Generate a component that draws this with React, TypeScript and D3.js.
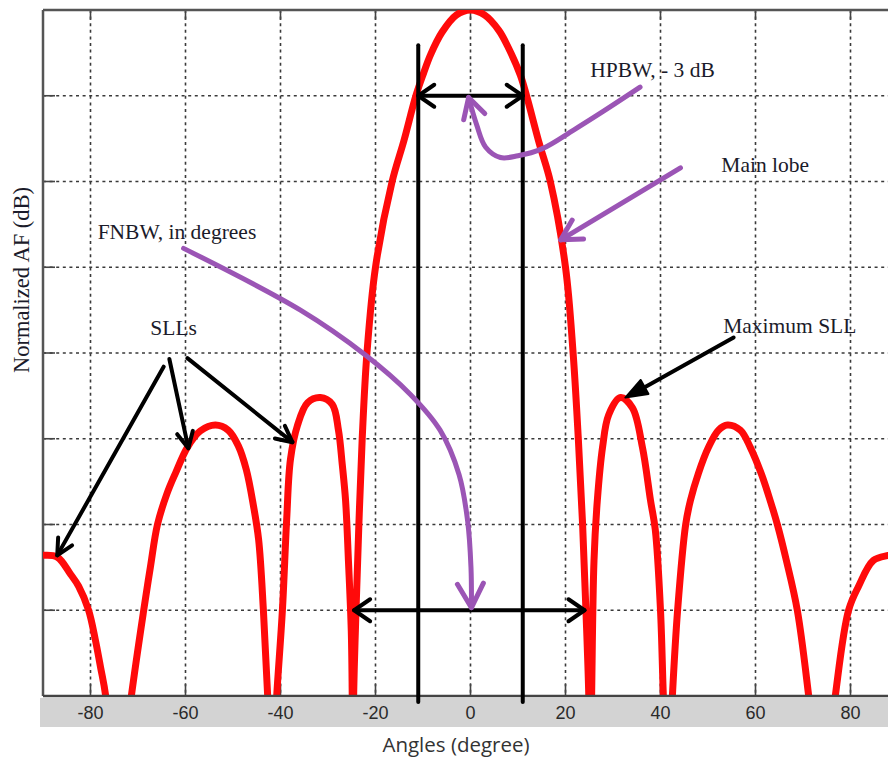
import React from 'react';
import * as d3 from 'd3';

// ---- data ----
const angles = [
  -90, -87, -84.2, -82.5, -80.4, -79, -77.9, -76.8, -74.5, -71.4, -68.8, -67.4, -65.9, -63.9, -62.1, -59.6, -56.9, -53.7,
  -51, -48.9, -47.2, -45.7, -44.6, -43.6, -42.7, -42, -40.8, -39.6, -38.7, -37.9, -36.4, -34.3, -31.6, -29.1, -27.8,
  -27, -26.3, -25.7, -25.1, -24.9, -24.75, -24.6, -24.1, -23.5, -22.8, -21.8, -20, -16.5, -14, -11.5, -9.9,
  -8.4, -6, -3, 0, 3, 6, 7.8, 10.5, 11.8, 14.5, 16.8, 20, 21.6, 22.7, 23.6, 24.3, 24.9, 25.2, 25.5, 26, 26.7, 27.8, 29.1, 31.6,
  34.1, 36.2, 37.9, 38.9, 40, 40.6, 41.5, 42.5, 43.6, 45.3, 46.3, 48, 50.1, 52.2, 54.1, 56.8, 58.9, 61.3, 63.2, 64.6,
  66.5, 68.8, 71.2, 74, 76.8, 79.6, 81.7, 84.8, 88, 90,
];
const afDb = [
  -31.8, -31.9, -32.9, -33.6, -35, -36.7, -38.3, -40, -47, -40, -35, -32.5, -30, -28.2, -27, -25.5, -24.55, -24.2,
  -24.5, -25.4, -26.8, -28.9, -30.9, -35, -40, -46, -40, -35, -29.7, -26.2, -24.2, -22.9, -22.6, -23.0, -24.5,
  -26.5, -28.6, -32.1, -36.2, -40, -46, -40, -35, -30, -25, -20, -15, -10, -7.6, -5, -3.7,
  -2.6, -1.3, -0.3, 0, -0.3, -1.2, -2.1, -3.8, -5, -7.8, -10, -15, -20, -25, -30, -35, -40, -46, -40, -32.1, -28.6, -25.5, -23.6, -22.6,
  -23.2, -25.5, -28.6, -30.3, -35, -40, -46, -40, -35, -30, -28.6, -27, -25.5, -24.5, -24.2, -24.5, -25.5, -27.1, -28.7, -30,
  -32.1, -35, -40, -47, -40, -35, -33.6, -32.1, -31.8, -31.7,
];
const xTicks = [-80, -60, -40, -20, 0, 20, 40, 60, 80];
const yGrid = [-35, -30, -25, -20, -15, -10, -5];
const xDomain = [-90, 90];
const yDomain = [-40, 0];
const xTitle = 'Angles (degree)';
const yTitle = 'Normalized AF (dB)';

// annotations, in data coordinates [angle, dB]
const hpbwEdges = [-11, 11];
const hpbwLevel = -5;
const edgeLineTop = -2.05;
const edgeLineBottom = -40.35;
const fnbwEdges = [-24.5, 24];
const fnbwLevel = -35;
const hpbwPointer = [[35.7, -4.5], [28, -5.9], [21.7, -7.0], [15, -8.1], [10, -8.5], [6.3, -8.6], [3.2, -8.0], [1.3, -6.7], [-0.4, -5.1]];
const mainLobePointer = [[44.2, -9.2], [19.0, -13.4]];
const fnbwPointer = [[-60.4, -13.9], [-35.8, -17.5], [-22.2, -20.1], [-12.7, -22.4], [-6.4, -24.5], [-2.4, -27.1], [-0.6, -29.8], [0.1, -32.5], [0.2, -34.85]];
const sllPointers = [
  [[-64.6, -20.8], [-87.0, -31.8]],
  [[-63.4, -20.35], [-59.4, -25.55]],
  [[-59.6, -20.3], [-37.5, -25.2]],
];
const maxSllPointer = [[55.4, -19.1], [32.6, -22.6]];
const labels = [
  { text: 'HPBW, - 3 dB', at: [25.2, -3.9] },
  { text: 'Main lobe', at: [52.8, -9.45] },
  { text: 'FNBW, in degrees', at: [-78.5, -13.35] },
  { text: 'SLLs', at: [-67.4, -18.95] },
  { text: 'Maximum SLL', at: [53.2, -18.83] },
];

const W = 888;
const H = 760;
const left = 43;
const top = 10;
const bottom = 696;
const right = 898;

const RED = '#ff0a0a';
const PURPLE = '#9b55b5';
const TEXT = '#1b1b2a';

function chevron(tip: number[], from: number[], len: number, half: number) {
  const dx = tip[0] - from[0];
  const dy = tip[1] - from[1];
  const d = Math.hypot(dx, dy) || 1;
  const ux = dx / d;
  const uy = dy / d;
  const bx = tip[0] - ux * len;
  const by = tip[1] - uy * len;
  const a = [bx - uy * half, by + ux * half];
  const b = [bx + uy * half, by - ux * half];
  return `M${a[0]},${a[1]}L${tip[0]},${tip[1]}L${b[0]},${b[1]}`;
}

export default function App() {
  const x = d3.scaleLinear().domain(xDomain).range([left, right]);
  const y = d3.scaleLinear().domain(yDomain).range([bottom, top]);
  const pts = angles.map((a, i) => [x(a), y(afDb[i])] as [number, number]);
  const line = d3.line().curve(d3.curveCatmullRom.alpha(0.5))(pts) || '';
  const smooth = d3.line().curve(d3.curveCatmullRom.alpha(0.5));
  const P = (p: number[]) => [x(p[0]), y(p[1])];

  const hp = hpbwPointer.map(P);
  const fn = fnbwPointer.map(P);
  const ml = mainLobePointer.map(P);
  const ms = maxSllPointer.map(P);

  const gridStyle = { stroke: '#3a3a3a', strokeWidth: 1.6, strokeDasharray: '3 3.6' };

  return (
    <svg width={W} height={H} style={{ position: 'absolute', left: 0, top: 0, background: '#fff' }}>
      <defs>
        <clipPath id="plotclip">
          <rect x={left} y={top} width={right - left} height={bottom - top} />
        </clipPath>
      </defs>
      <rect x={0} y={0} width={W} height={H} fill="#fff" />

      {/* grid */}
      {xTicks.map((t) => (
        <line key={'gx' + t} x1={x(t)} x2={x(t)} y1={top} y2={bottom} {...gridStyle} />
      ))}
      {yGrid.map((t) => (
        <line key={'gy' + t} x1={left} x2={right} y1={y(t)} y2={y(t)} {...gridStyle} />
      ))}

      {/* ticks */}
      {xTicks.map((t) => (
        <g key={'tx' + t}>
          <line x1={x(t)} x2={x(t)} y1={bottom} y2={bottom - 12} stroke="#444" strokeWidth={1.6} />
          <line x1={x(t)} x2={x(t)} y1={top} y2={top + 10} stroke="#444" strokeWidth={1.6} />
        </g>
      ))}
      {yGrid.map((t) => (
        <line key={'ty' + t} x1={left} x2={left + 12} y1={y(t)} y2={y(t)} stroke="#444" strokeWidth={1.6} />
      ))}

      {/* frame */}
      <line x1={left} x2={right} y1={top} y2={top} stroke="#555" strokeWidth={2.5} />
      <line x1={left} x2={left} y1={top} y2={bottom} stroke="#555" strokeWidth={2.5} />

      {/* red pattern */}
      <g clipPath="url(#plotclip)">
        <path d={line} fill="none" stroke={RED} strokeWidth={7} strokeLinejoin="round" />
      </g>

      {/* gray x-axis band */}
      <rect x={40} y={698} width={W - 40} height={29} fill="#d3d3d3" />
      <line x1={left} x2={right} y1={bottom} y2={bottom} stroke="#444" strokeWidth={2.5} />

      {/* HPBW edge lines */}
      {hpbwEdges.map((a) => (
        <line key={'e' + a} x1={x(a)} x2={x(a)} y1={y(edgeLineTop)} y2={y(edgeLineBottom)} stroke="#000" strokeWidth={4} strokeLinecap="round" />
      ))}
      {/* HPBW double arrow */}
      <g stroke="#000" strokeWidth={4} fill="none" strokeLinecap="round" strokeLinejoin="round">
        <line x1={x(hpbwEdges[0])} x2={x(hpbwEdges[1])} y1={y(hpbwLevel)} y2={y(hpbwLevel)} />
        <path d={chevron([x(hpbwEdges[0]), y(hpbwLevel)], [x(hpbwEdges[1]), y(hpbwLevel)], 16, 11)} />
        <path d={chevron([x(hpbwEdges[1]), y(hpbwLevel)], [x(hpbwEdges[0]), y(hpbwLevel)], 16, 11)} />
        {/* FNBW double arrow */}
        <line x1={x(fnbwEdges[0])} x2={x(fnbwEdges[1])} y1={y(fnbwLevel)} y2={y(fnbwLevel)} />
        <path d={chevron([x(fnbwEdges[0]), y(fnbwLevel)], [x(fnbwEdges[1]), y(fnbwLevel)], 16, 11)} />
        <path d={chevron([x(fnbwEdges[1]), y(fnbwLevel)], [x(fnbwEdges[0]), y(fnbwLevel)], 16, 11)} />
        {/* SLL pointers */}
        {sllPointers.map((seg, i) => {
          const s = P(seg[0]);
          const t = P(seg[1]);
          return (
            <g key={'sll' + i}>
              <line x1={s[0]} y1={s[1]} x2={t[0]} y2={t[1]} />
              <path d={chevron(t, s, 16, 8)} />
            </g>
          );
        })}
        <line x1={ms[0][0]} y1={ms[0][1]} x2={ms[1][0] + 10} y2={ms[1][1] - 5} />
      </g>
      <path d={chevron(ms[1], ms[0], 22, 8) + 'Z'} fill="#000" stroke="#000" strokeWidth={2} strokeLinejoin="round" />

      {/* purple pointers */}
      <g stroke={PURPLE} strokeWidth={5} fill="none" strokeLinecap="round" strokeLinejoin="round">
        <path d={smooth(hp as [number, number][]) || ''} />
        <path d={chevron(hp[hp.length - 1], hp[hp.length - 2], 20, 11)} />
        <line x1={ml[0][0]} y1={ml[0][1]} x2={ml[1][0]} y2={ml[1][1]} />
        <path d={chevron(ml[1], ml[0], 20, 11)} />
        <path d={smooth(fn as [number, number][]) || ''} />
        <path d={chevron(fn[fn.length - 1], fn[fn.length - 3], 24, 13)} />
      </g>

      {/* annotation labels */}
      {labels.map((l) => (
        <text key={l.text} x={x(l.at[0])} y={y(l.at[1])} fill={TEXT} fontFamily="'Liberation Serif', 'Times New Roman', serif" fontSize={21.5}>
          {l.text}
        </text>
      ))}

      {/* x tick labels */}
      {xTicks.map((t) => (
        <text key={'lx' + t} x={x(t)} y={719} textAnchor="middle" fill="#2a2a2a" fontFamily="'Liberation Sans Narrow', 'Liberation Sans', Arial, sans-serif" fontSize={18}>
          {t}
        </text>
      ))}

      {/* axis titles */}
      <text x={456} y={752} textAnchor="middle" fill="#333" fontFamily="'Open Sans', sans-serif" fontSize={20.5}>
        {xTitle}
      </text>
      <text transform={`translate(29, 280) rotate(-90)`} textAnchor="middle" fill={TEXT} fontFamily="'Liberation Serif', 'Times New Roman', serif" fontSize={22.5}>
        {yTitle}
      </text>
    </svg>
  );
}
